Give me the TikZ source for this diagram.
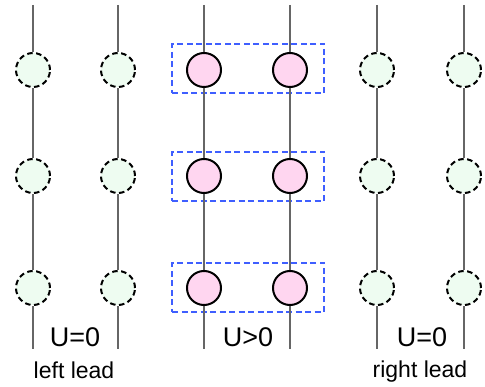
\documentclass[tikz,border=0pt]{standalone}
\usepackage{fontspec}
\setmainfont{Liberation Sans}
\usepackage{tikz}

\definecolor{leadgreen}{HTML}{EEFCF1}
\definecolor{dotpink}{HTML}{FFD6F0}
\definecolor{boxblue}{HTML}{3F5FFF}
\definecolor{wiregray}{HTML}{666666}

\begin{document}
\begin{tikzpicture}[x=1pt, y=-1pt,
        leaddot/.style={circle, draw=black, line width=2pt, dash pattern=on 5.5pt off 3.5pt, fill=leadgreen, minimum size=34pt, inner sep=0pt},
        sitedot/.style={circle, draw=black, line width=2pt, fill=dotpink, minimum size=34pt, inner sep=0pt},
        cellbox/.style={rectangle, draw=boxblue, line width=1.5pt, dash pattern=on 6pt off 3.5pt, minimum width=152pt, minimum height=49pt, inner sep=0pt},
        wire/.style={draw=wiregray, line width=2pt},
        bigtext/.style={font=\fontsize{27}{30}\selectfont},
        smalltext/.style={font=\fontsize{23}{26}\selectfont}]
        \useasboundingbox (0,0) rectangle (485,387);

        % Boxes
        \node[cellbox] (box1) at (248, 68.5) {};
        \node[cellbox] (box2) at (248, 176.5) {};
        \node[cellbox] (box3) at (248, 287.5) {};

        % Nodes
        \node[leaddot] (a1) at (33, 70) {};
        \node[leaddot] (a2) at (33, 176) {};
        \node[leaddot] (a3) at (33, 288) {};
        \node[leaddot] (b1) at (118, 70) {};
        \node[leaddot] (b2) at (118, 176) {};
        \node[leaddot] (b3) at (118, 288) {};
        \node[sitedot] (c1) at (204, 70) {};
        \node[sitedot] (c2) at (204, 176) {};
        \node[sitedot] (c3) at (204, 288) {};
        \node[sitedot] (d1) at (290, 70) {};
        \node[sitedot] (d2) at (290, 176) {};
        \node[sitedot] (d3) at (290, 288) {};
        \node[leaddot] (e1) at (377, 70) {};
        \node[leaddot] (e2) at (377, 176) {};
        \node[leaddot] (e3) at (377, 288) {};
        \node[leaddot] (f1) at (464, 70) {};
        \node[leaddot] (f2) at (464, 176) {};
        \node[leaddot] (f3) at (464, 288) {};

        % Wire ends
        \foreach \col/\xx in {a/33, b/118, c/204, d/290, e/377, f/464} {
            \coordinate (\col top) at (\xx, 5);
            \coordinate (\col bot) at (\xx, 349);
        }

        % Lines
        \foreach \col in {a, b, c, d, e, f} {
            \draw[wire] (\col top) -- (\col1);
            \draw[wire] (\col1) -- (\col2);
            \draw[wire] (\col2) -- (\col3);
            \draw[wire] (\col3) -- (\col bot);
        }

        % Labels
        \node[bigtext] (uleft) at (75, 337) {U=0};
        \node[bigtext] (umid) at (248, 337) {U>0};
        \node[bigtext] (uright) at (422, 337) {U=0};
        \node[smalltext] (lleft) at (74, 370) {left lead};
        \node[smalltext] (lright) at (420, 372) {right lead};
    \end{tikzpicture}
\end{document}
